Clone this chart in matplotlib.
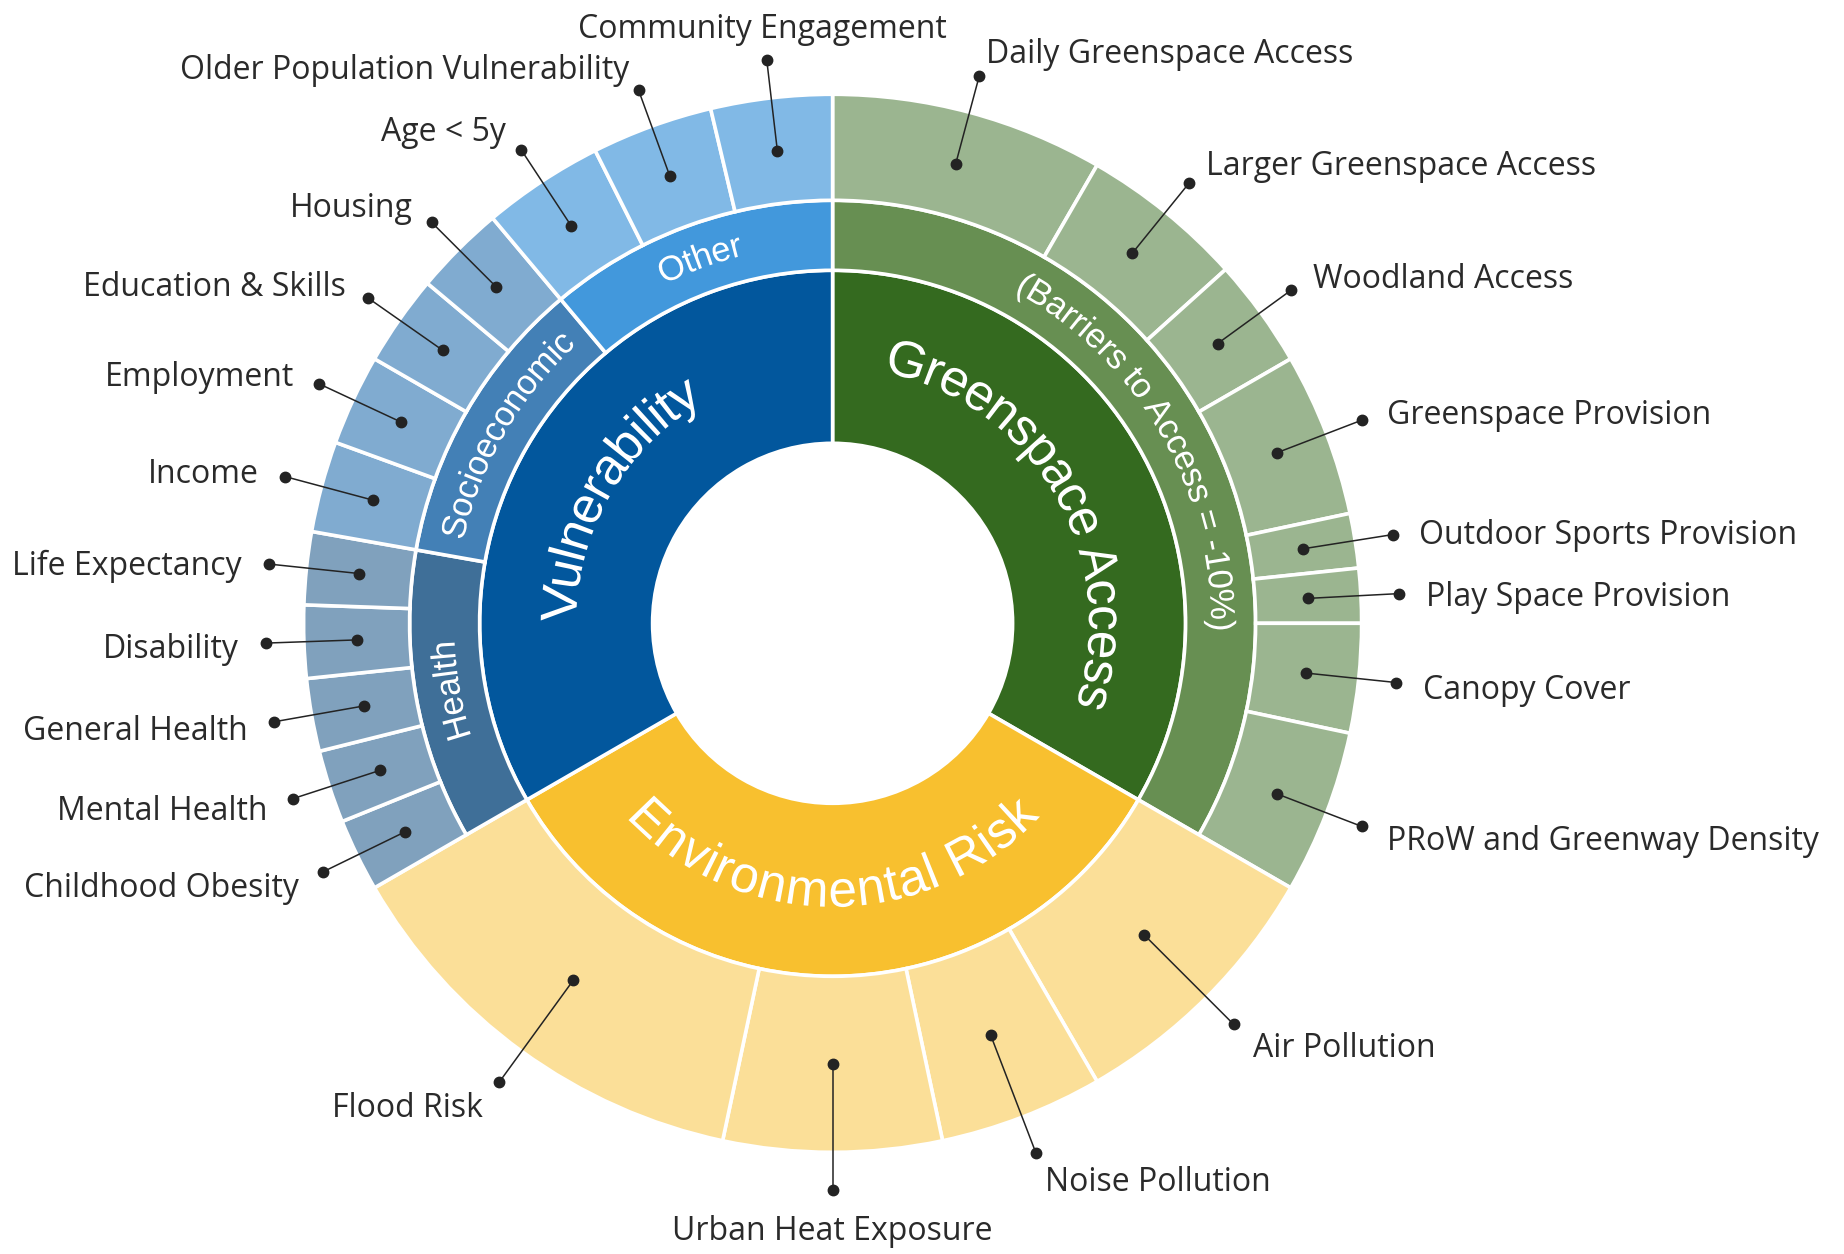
import numpy as np
import matplotlib
matplotlib.use("Agg")
import matplotlib.pyplot as plt
from matplotlib.patches import Wedge
from matplotlib.path import Path
from matplotlib.transforms import IdentityTransform
from matplotlib.patheffects import AbstractPathEffect

# ---------------- data ----------------
domains = ["Greenspace Access", "Environmental Risk", "Vulnerability"]
domain_weights = [1, 1, 1]

greenspace_groups = ["(Barriers to Access = -10%)"]
greenspace_leaves = ["Daily Greenspace Access", "Larger Greenspace Access", "Woodland Access",
                     "Greenspace Provision", "Outdoor Sports Provision", "Play Space Provision",
                     "Canopy Cover", "PRoW and Greenway Density"]
greenspace_weights = [25, 15, 10, 15, 5, 5, 10, 15]

environment_leaves = ["Air Pollution", "Noise Pollution", "Urban Heat Exposure", "Flood Risk"]
environment_weights = [25, 15, 20, 40]

vulnerability_groups = ["Health", "Socioeconomic", "Other"]
vulnerability_group_weights = [1, 1, 1]
health_leaves = ["Childhood Obesity", "Mental Health", "General Health", "Disability", "Life Expectancy"]
health_weights = [1, 1, 1, 1, 1]
socio_leaves = ["Income", "Employment", "Education & Skills", "Housing"]
socio_weights = [1, 1, 1, 1]
other_leaves = ["Age < 5y", "Older Population Vulnerability", "Community Engagement"]
other_weights = [1, 1, 1]

# ---------------- style ----------------
C_GREEN = ["#346A1F", "#678F52", "#9BB590"]
C_ENV = ["#F8C02F", "#FBDF98"]
C_VUL = "#02579D"
C_VGROUP = ["#3F6F98", "#4380B6", "#4298DC"]
C_VLEAF = ["#80A1BD", "#80ABD0", "#81B9E6"]
LINE = "#232323"
TXT = "#2a2a2a"

W, H = 1844, 1254
fig = plt.figure(figsize=(W / 100, H / 100), dpi=100)
ax = fig.add_axes([0, 0, 1, 1])
ax.set_xlim(0, W)
ax.set_ylim(0, H)
ax.axis("off")

cx, cy = 832.6, H - 623.3
R0, R1, R2, R3 = 180, 353, 423, 529
R_DOT = 567
EDGE = dict(edgecolor="white", linewidth=2.6)


def spans(weights, a0, a1):
    w = np.asarray(weights, float)
    c = np.concatenate([[0], np.cumsum(w)]) / w.sum()
    return [(a0 + (a1 - a0) * c[i], a0 + (a1 - a0) * c[i + 1]) for i in range(len(w))]


def wedge(a0, a1, rin, rout, color):
    ax.add_patch(Wedge((cx, cy), rout, 90 - a1, 90 - a0, width=rout - rin,
                       facecolor=color, zorder=2, **EDGE))


def leaf_label(name, a0, a1, rin, rout):
    am = (a0 + a1) / 2
    th = np.deg2rad(90 - am)
    c, s = np.cos(th), np.sin(th)
    rm = (rin + rout) / 2
    x1, y1 = cx + rm * c, cy + rm * s
    x2, y2 = cx + R_DOT * c, cy + R_DOT * s
    ax.plot([x1, x2], [y1, y2], color=LINE, lw=1.1, zorder=5)
    ax.plot([x1, x2], [y1, y2], "o", ms=7.5, color=LINE, zorder=6)
    if abs(c) < 0.18:
        off, ha = 36, "center"
    else:
        off, ha = 27, ("left" if c > 0 else "right")
    ax.text(cx + (R_DOT + off) * c, cy + (R_DOT + off) * s - 5, name, ha=ha, va="center",
            fontsize=23, family="Open Sans", color=TXT, zorder=7)


class ArcWarp(AbstractPathEffect):
    def __init__(self, anchor, rot, rc, thm, clockwise):
        super().__init__()
        self.anchor, self.rot, self.rc, self.thm, self.cw = anchor, rot, rc, thm, clockwise

    def draw_path(self, renderer, gc, tpath, affine, rgbFace=None):
        T = ax.transData
        c0 = T.transform((cx, cy))
        a = T.transform(self.anchor)
        sc = T.transform((cx + 1, cy))[0] - c0[0]
        verts = affine.transform(tpath.vertices)
        d = verts - a
        phi = np.deg2rad(-self.rot)
        u = d[:, 0] * np.cos(phi) - d[:, 1] * np.sin(phi)
        v = d[:, 0] * np.sin(phi) + d[:, 1] * np.cos(phi)
        rc = self.rc * sc
        thm = np.deg2rad(self.thm)
        if self.cw:
            th = thm - u / rc
            r = rc + v
        else:
            th = thm + u / rc
            r = rc - v
        new = np.column_stack([c0[0] + r * np.cos(th), c0[1] + r * np.sin(th)])
        renderer.draw_path(gc, Path(new, tpath.codes), IdentityTransform(), rgbFace)


def arc_text(s, am, rc, size, clockwise):
    thm = 90 - am
    t = np.deg2rad(thm)
    anchor = (cx + rc * np.cos(t), cy + rc * np.sin(t))
    rot = thm - 90 if clockwise else thm + 90
    ax.text(anchor[0], anchor[1], s, rotation=rot, rotation_mode="anchor", ha="center",
            va="center", fontsize=size, family="Liberation Sans", color="white", zorder=4,
            path_effects=[ArcWarp(anchor, rot, rc, thm, clockwise)])


dom = spans(domain_weights, 0, 360)

# Greenspace
g0, g1 = dom[0]
wedge(g0, g1, R0, R1, C_GREEN[0])
wedge(g0, g1, R1, R2, C_GREEN[1])
for name, (a0, a1) in zip(greenspace_leaves, spans(greenspace_weights, g0, g1)):
    wedge(a0, a1, R2, R3, C_GREEN[2])
    leaf_label(name, a0, a1, R2, R3)
arc_text(domains[0], (g0 + g1) / 2, 270, 37, True)
arc_text(greenspace_groups[0], (g0 + g1) / 2, 388, 25, True)

# Environmental
e0, e1 = dom[1]
wedge(e0, e1, R0, R1, C_ENV[0])
for name, (a0, a1) in zip(environment_leaves, spans(environment_weights, e0, e1)):
    wedge(a0, a1, R1, R3, C_ENV[1])
    leaf_label(name, a0, a1, R1, R3)
arc_text(domains[1], (e0 + e1) / 2, 270, 37, False)

# Vulnerability
v0, v1 = dom[2]
wedge(v0, v1, R0, R1, C_VUL)
arc_text(domains[2], (v0 + v1) / 2, 270, 37, True)
groups_leaves = [(health_leaves, health_weights), (socio_leaves, socio_weights), (other_leaves, other_weights)]
for gi, ((b0, b1), (lv, wt)) in enumerate(zip(spans(vulnerability_group_weights, v0, v1), groups_leaves)):
    wedge(b0, b1, R1, R2, C_VGROUP[gi])
    arc_text(vulnerability_groups[gi], (b0 + b1) / 2, 388, 25, True)
    for name, (a0, a1) in zip(lv, spans(wt, b0, b1)):
        wedge(a0, a1, R2, R3, C_VLEAF[gi])
        leaf_label(name, a0, a1, R2, R3)

fig.savefig("out.png", dpi=100, facecolor="white")
